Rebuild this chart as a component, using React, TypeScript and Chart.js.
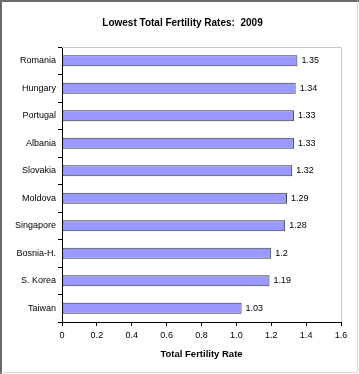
import React, { useEffect, useRef } from "react";
import { Chart, registerables } from "chart.js";

Chart.register(...registerables);

const categories = ["Romania", "Hungary", "Portugal", "Albania", "Slovakia", "Moldova", "Singapore", "Bosnia-H.", "S. Korea", "Taiwan"];
const values = [1.35, 1.34, 1.33, 1.33, 1.32, 1.29, 1.28, 1.2, 1.19, 1.03];
const valueLabels = ["1.35", "1.34", "1.33", "1.33", "1.32", "1.29", "1.28", "1.2", "1.19", "1.03"];
const chartTitle = "Lowest Total Fertility Rates:  2009";
const xTitle = "Total Fertility Rate";
const xMin = 0;
const xMax = 1.6;
const xStep = 0.2;

const FONT = "'Liberation Sans', Arial, sans-serif";

const framePlugin = {
  id: "frame",
  beforeDraw(chart: any) {
    const { ctx, width, height } = chart;
    ctx.save();
    ctx.fillStyle = "#ffffff";
    ctx.fillRect(0, 0, width, height);
    ctx.restore();
  },
  afterDraw(chart: any) {
    const { ctx, width, height, chartArea } = chart;
    ctx.save();
    // title
    ctx.font = `bold 10px ${FONT}`;
    ctx.fillStyle = "#000000";
    ctx.textAlign = "center";
    ctx.textBaseline = "middle";
    ctx.fillText(chartTitle, 182.5, 23);
    // plot area top/right light border
    ctx.strokeStyle = "#c8c8c8";
    ctx.lineWidth = 1;
    ctx.beginPath();
    ctx.moveTo(chartArea.left, chartArea.top + 0.5);
    ctx.lineTo(chartArea.right + 0.5, chartArea.top + 0.5);
    ctx.lineTo(chartArea.right + 0.5, chartArea.bottom);
    ctx.stroke();
    // outer frame
    ctx.strokeStyle = "#6a6a6a";
    ctx.lineWidth = 2;
    ctx.beginPath();
    ctx.moveTo(1, height);
    ctx.lineTo(1, 1);
    ctx.lineTo(width, 1);
    ctx.stroke();
    ctx.strokeStyle = "#d8d8d8";
    ctx.lineWidth = 1;
    ctx.beginPath();
    ctx.moveTo(width - 1.5, 1);
    ctx.lineTo(width - 1.5, height - 1.5);
    ctx.lineTo(1, height - 1.5);
    ctx.stroke();
    ctx.restore();
  },
};

const valueLabelPlugin = {
  id: "valueLabels",
  afterDatasetsDraw(chart: any) {
    const { ctx } = chart;
    const meta = chart.getDatasetMeta(0);
    ctx.save();
    ctx.font = `9px ${FONT}`;
    ctx.fillStyle = "#000000";
    ctx.textAlign = "left";
    ctx.textBaseline = "middle";
    meta.data.forEach((el: any, i: number) => {
      ctx.fillText(valueLabels[i], el.x + 4, el.y);
    });
    ctx.restore();
  },
};

export default function App() {
  const ref = useRef<HTMLCanvasElement | null>(null);
  useEffect(() => {
    if (!ref.current) return;
    const chart = new Chart(ref.current, {
      type: "bar",
      data: {
        labels: categories,
        datasets: [
          {
            data: values,
            backgroundColor: "#9999ff",
            borderColor: "#333333",
            borderWidth: 1,
            borderSkipped: false,
            barPercentage: 0.8,
            categoryPercentage: 0.5,
          },
        ],
      },
      options: {
        indexAxis: "y",
        responsive: false,
        animation: false,
        devicePixelRatio: 1,
        layout: { padding: { left: 0, right: 18, top: 47, bottom: 0 } },
        plugins: {
          legend: { display: false },
          tooltip: { enabled: false },
          title: { display: false },
        },
        scales: {
          x: {
            min: xMin,
            max: xMax,
            ticks: {
              stepSize: xStep,
              color: "#000000",
              font: { family: FONT, size: 9 },
              padding: 4,
              maxRotation: 0,
            },
            grid: {
              display: true,
              drawOnChartArea: false,
              drawTicks: true,
              tickLength: 4,
              color: "#000000",
            },
            border: { display: true, color: "#000000", width: 1 },
            title: {
              display: true,
              text: xTitle,
              color: "#000000",
              font: { family: FONT, size: 9.5, weight: "bold" },
              padding: { top: 0, bottom: 14 },
            },
            afterFit: (scale: any) => {
              scale.height = 52;
            },
          },
          y: {
            ticks: {
              color: "#000000",
              font: { family: FONT, size: 9 },
              padding: 2,
            },
            grid: {
              display: true,
              drawOnChartArea: false,
              drawTicks: true,
              tickLength: 4,
              offset: true,
              color: "#000000",
            },
            border: { display: true, color: "#000000", width: 1 },
            afterFit: (scale: any) => {
              scale.width = 62;
            },
          },
        },
      },
      plugins: [framePlugin, valueLabelPlugin],
    } as any);
    return () => chart.destroy();
  }, []);
  return (
    <div style={{ position: "fixed", left: 0, top: 0, width: 359, height: 374 }}>
      <canvas ref={ref} width={359} height={374} style={{ display: "block" }} />
    </div>
  );
}
